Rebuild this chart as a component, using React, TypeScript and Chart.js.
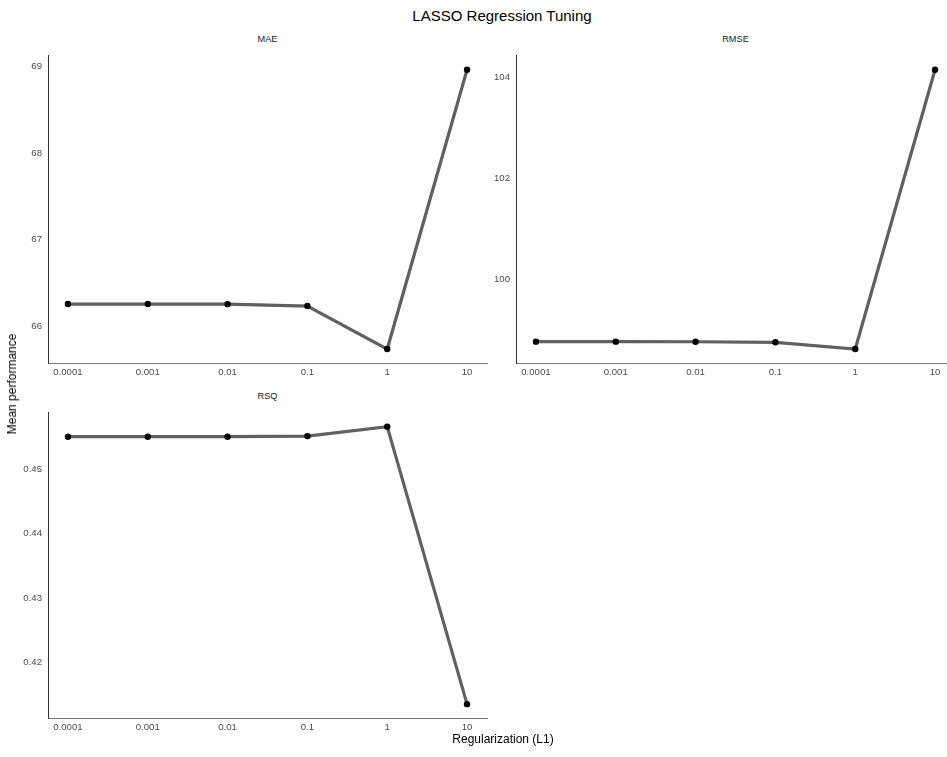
import React, { useEffect, useRef } from "react";
import { Chart, registerables } from "chart.js";

Chart.register(...registerables);

// Tuning grid: L1 penalty values and the mean resampled metric at each one
const penalties = [0.0001, 0.001, 0.01, 0.1, 1, 10];
const penaltyLabels = ["0.0001", "0.001", "0.01", "0.1", "1", "10"];

const maeValues = [66.256, 66.256, 66.255, 66.233, 65.737, 68.96];
const rmseValues = [98.757, 98.757, 98.755, 98.744, 98.61, 104.16];
const rsqValues = [0.45505, 0.45505, 0.45505, 0.45514, 0.45661, 0.4135];

const maeTicks = [66, 67, 68, 69];
const rmseTicks = [100, 102, 104];
const rsqTicks = [0.42, 0.43, 0.44, 0.45];

const FONT = "'Liberation Sans', Arial, sans-serif";
const LINE_COLOR = "#606060";
const TICK_COLOR = "#4d4d4d";

// 5% padding on each side of the data range, like a continuous ggplot scale
function expandRange(lo: number, hi: number, frac = 0.05): [number, number] {
  const r = hi - lo;
  return [lo - r * frac, hi + r * frac];
}

const [logMin, logMax] = expandRange(
  Math.log10(penalties[0]),
  Math.log10(penalties[penalties.length - 1])
);

type PanelProps = {
  left: number;
  top: number;
  width: number;
  height: number;
  values: number[];
  ticks: number[];
};

function Panel({ left, top, width, height, values, ticks }: PanelProps) {
  const ref = useRef<HTMLCanvasElement | null>(null);

  useEffect(() => {
    if (!ref.current) return;
    const [yMin, yMax] = expandRange(Math.min(...values), Math.max(...values));
    const chart = new Chart(ref.current, {
      type: "line",
      data: {
        datasets: [
          {
            data: penalties.map((p, i) => ({ x: p, y: values[i] })),
            borderColor: LINE_COLOR,
            borderWidth: 3.2,
            pointRadius: 3.2,
            pointBackgroundColor: "#000",
            pointBorderWidth: 0,
            tension: 0,
            clip: false as any,
          },
        ],
      },
      options: {
        animation: false,
        responsive: false,
        devicePixelRatio: 1,
        layout: { padding: { top: 4, right: 8, left: 0, bottom: 0 } },
        plugins: {
          legend: { display: false },
          tooltip: { enabled: false },
        },
        scales: {
          x: {
            type: "logarithmic",
            bounds: "data",
            min: Math.pow(10, logMin),
            max: Math.pow(10, logMax),
            grid: { display: false, drawTicks: false },
            border: { display: true, color: "#777", width: 1 },
            afterBuildTicks: (axis: any) => {
              axis.ticks = penalties.map((v) => ({ value: v }));
            },
            afterFit: (axis: any) => {
              axis.height = 21;
            },
            ticks: {
              autoSkip: false,
              maxRotation: 0,
              padding: 4,
              color: TICK_COLOR,
              font: { family: FONT, size: 9.6 },
              callback: (v: any) => {
                const i = penalties.indexOf(Number(v));
                return i >= 0 ? penaltyLabels[i] : "";
              },
            },
          },
          y: {
            type: "linear",
            bounds: "data",
            min: yMin,
            max: yMax,
            grid: { display: false, drawTicks: false },
            border: { display: true, color: "#333", width: 1 },
            afterBuildTicks: (axis: any) => {
              axis.ticks = ticks.map((v) => ({ value: v }));
            },
            afterFit: (axis: any) => {
              axis.width = 48;
            },
            ticks: {
              padding: 6,
              color: TICK_COLOR,
              font: { family: FONT, size: 9.6 },
              callback: (v: any) => String(v),
            },
          },
        },
      },
    });
    return () => chart.destroy();
  }, [values, ticks]);

  return (
    <canvas
      ref={ref}
      width={width}
      height={height}
      style={{ position: "absolute", left, top, width, height }}
    />
  );
}

const textBase: React.CSSProperties = {
  position: "absolute",
  fontFamily: FONT,
  whiteSpace: "nowrap",
};

function Label({
  text,
  x,
  y,
  size,
  color,
  rotate,
}: {
  text: string;
  x: number;
  y: number;
  size: number;
  color: string;
  rotate?: boolean;
}) {
  return (
    <div
      style={{
        ...textBase,
        left: x,
        top: y,
        fontSize: size,
        lineHeight: `${size}px`,
        color,
        transform: rotate
          ? "translate(-50%, -50%) rotate(-90deg)"
          : "translateX(-50%)",
      }}
    >
      {text}
    </div>
  );
}

export default function App() {
  return (
    <div
      style={{
        position: "fixed",
        left: 0,
        top: 0,
        width: 947,
        height: 757,
        overflow: "hidden",
        background: "#fff",
      }}
    >
      <Label text="LASSO Regression Tuning" x={502} y={8} size={15} color="#000" />

      <Label text="MAE" x={267.5} y={35} size={9.2} color="#1a1a1a" />
      <Label text="RMSE" x={735.5} y={35} size={9.2} color="#1a1a1a" />
      <Label text="RSQ" x={267.5} y={391.5} size={9.2} color="#1a1a1a" />

      <Panel left={0} top={44} width={495} height={340} values={maeValues} ticks={maeTicks} />
      <Panel left={468} top={44} width={495} height={340} values={rmseValues} ticks={rmseTicks} />
      <Panel left={0} top={401} width={495} height={338} values={rsqValues} ticks={rsqTicks} />

      <Label text="Mean performance" x={11.5} y={384} size={12} color="#000" rotate />
      <Label text="Regularization (L1)" x={503} y={733} size={12} color="#000" />
    </div>
  );
}
